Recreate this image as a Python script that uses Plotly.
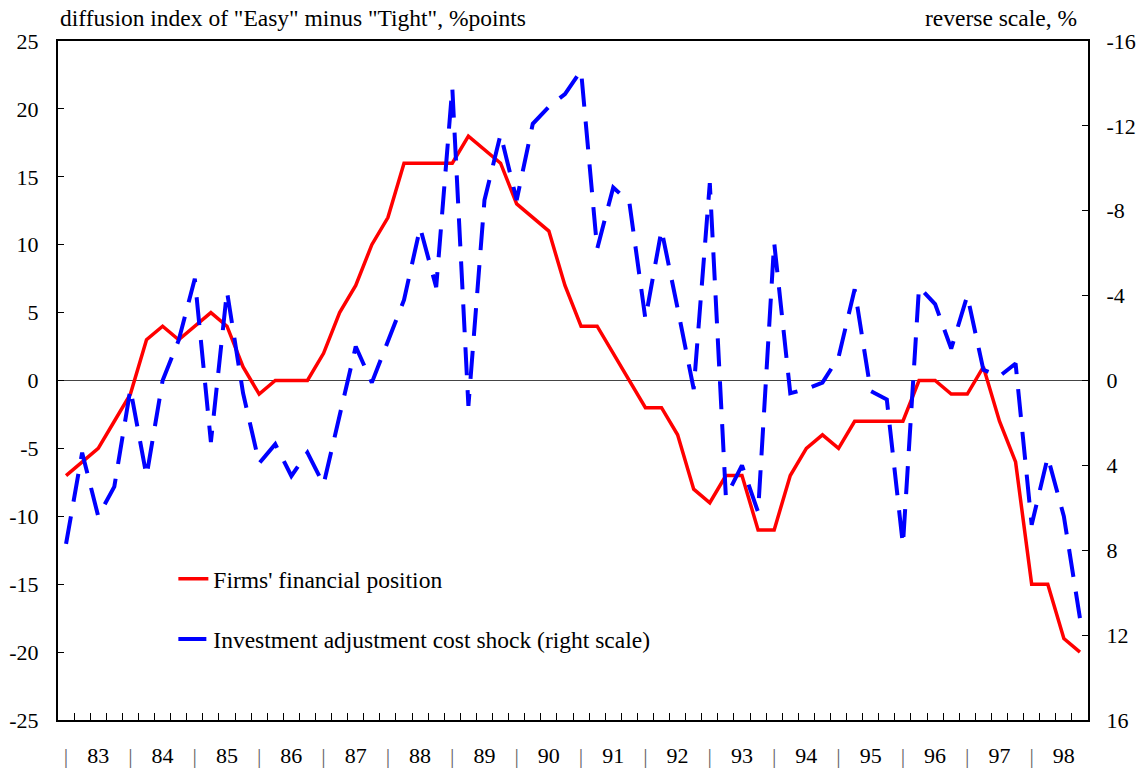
import plotly.graph_objects as go

# ---- data (quarterly, 1983Q1 - 1998Q4) ----
years = ["83", "84", "85", "86", "87", "88", "89", "90",
         "91", "92", "93", "94", "95", "96", "97", "98"]
quarters = [f"{y}Q{q}" for y in years for q in range(1, 5)]

firms_financial_position = [
    -7, -6, -5, -3, -1, 3, 4, 3, 4, 5,
    4, 1, -1, 0, 0, 0, 2, 5, 7, 10,
    12, 16, 16, 16, 16, 18, 17, 16, 13, 12,
    11, 7, 4, 4, 2, 0, -2, -2, -4, -8,
    -9, -7, -7, -11, -11, -7, -5, -4, -5, -3,
    -3, -3, -3, 0, 0, -1, -1, 1, -3, -6,
    -15, -15, -19, -20,
]

investment_cost_shock = [
    7.7, 3.4, 6.4, 5.0, 0.4, 4.5, 0.0, -1.9, -4.8, 2.9,
    -4.2, 0.6, 3.9, 3.0, 4.5, 3.4, 4.9, 1.7, -1.6, 0.1,
    -1.8, -3.8, -7.2, -4.4, -13.8, 1.2, -8.5, -11.6, -8.5, -12.1,
    -12.9, -13.5, -14.6, -6.2, -9.1, -8.4, -2.9, -7.1, -3.4, 0.4,
    -9.3, 5.5, 4.0, 6.2, -6.5, 0.6, 0.4, 0.1, -1.1, -4.3,
    0.5, 0.9, 7.75, -4.4, -3.6, -1.5, -4.0, -0.5, -0.2, -0.8,
    6.8, 3.6, 6.4, 11.2,
]

left_ticks = [-25, -20, -15, -10, -5, 0, 5, 10, 15, 20, 25]
right_ticks = [-16, -12, -8, -4, 0, 4, 8, 12, 16]

FONT = "Liberation Serif"
TICK_SIZE = 22
TEXT_SIZE = 23.5
x = list(range(len(quarters)))

# tick labels: "|" at first quarter of each year, year number at third quarter
label_vals, label_text = [], []
for k, yr in enumerate(years):
    label_vals += [4 * k, 4 * k + 2]
    label_text += ["<span style='color:#666666'>|</span>", yr]
minor_vals = [i + 0.5 for i in range(len(quarters) - 1)]

fig = go.Figure()
fig.add_trace(go.Scatter(
    x=x, y=firms_financial_position, mode="lines",
    name="Firms' financial position",
    line=dict(color="#FF0000", width=3.5),
    legend="legend", yaxis="y",
))
fig.add_trace(go.Scatter(
    x=x, y=investment_cost_shock, mode="lines",
    name="Investment adjustment cost shock (right scale)",
    line=dict(color="#0000FF", width=4, dash="28px,15px"),
    legend="legend2", yaxis="y2",
))

fig.update_layout(
    width=1147, height=771,
    margin=dict(l=58, r=59, t=41, b=51, autoexpand=False),
    paper_bgcolor="white", plot_bgcolor="white",
    font=dict(family=FONT, size=TICK_SIZE, color="black"),
    showlegend=True,
    xaxis=dict(
        range=[-0.5, len(quarters) - 0.5], automargin=False,
        tickmode="array", tickvals=label_vals, ticktext=label_text,
        ticks="", showgrid=False, zeroline=False,
        showline=True, linecolor="black", linewidth=2, mirror=True,
        tickfont=dict(family=FONT, size=TICK_SIZE, color="black"),
        ticklabelstandoff=15,
        minor=dict(tickmode="array", tickvals=minor_vals, ticks="inside",
                   ticklen=7, tickwidth=1, tickcolor="black", showgrid=False),
    ),
    yaxis=dict(
        range=[-25, 25], automargin=False,
        tickmode="array", tickvals=left_ticks,
        ticktext=[str(v) for v in left_ticks],
        ticks="inside", ticklen=6, tickwidth=1, tickcolor="black",
        showgrid=False, showline=True, linecolor="black", linewidth=2,
        zeroline=True, zerolinecolor="#444444", zerolinewidth=1,
        tickfont=dict(family=FONT, size=TICK_SIZE, color="black"),
        ticklabelstandoff=13,
    ),
    yaxis2=dict(
        overlaying="y", side="right", anchor="x", automargin=False,
        range=[16, -16], tickmode="array", tickvals=right_ticks,
        ticktext=[str(v) for v in right_ticks],
        ticks="inside", ticklen=6, tickwidth=1, tickcolor="black",
        showgrid=False, showline=True, linecolor="black", linewidth=2,
        zeroline=False,
        tickfont=dict(family=FONT, size=TICK_SIZE, color="black"),
        ticklabelstandoff=12,
    ),
    legend=dict(
        x=0.112, y=0.2077, xanchor="left", yanchor="middle",
        bgcolor="rgba(0,0,0,0)", borderwidth=0,
        font=dict(family=FONT, size=TEXT_SIZE, color="black"),
    ),
    legend2=dict(
        x=0.112, y=0.119, xanchor="left", yanchor="middle",
        bgcolor="rgba(0,0,0,0)", borderwidth=0,
        font=dict(family=FONT, size=TEXT_SIZE, color="black"),
    ),
    annotations=[
        dict(text='diffusion index of "Easy" minus "Tight", %points',
             xref="paper", yref="paper", x=0, y=1, xanchor="left",
             yanchor="bottom", yshift=8, showarrow=False,
             font=dict(family=FONT, size=TEXT_SIZE, color="black")),
        dict(text="reverse scale, %",
             xref="paper", yref="paper", x=0.9913, y=1, xanchor="right",
             yanchor="bottom", yshift=8, showarrow=False,
             font=dict(family=FONT, size=TEXT_SIZE, color="black")),
    ],
)

fig.write_html(
    "out.html",
    config={"displayModeBar": False},
    post_script="document.body.style.margin='0';"
                "document.body.style.overflow='hidden';",
)
